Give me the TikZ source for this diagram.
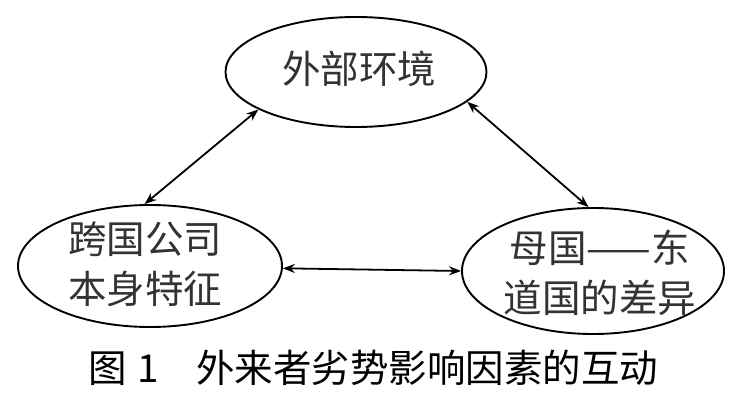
\documentclass[tikz,border=0pt]{standalone}
\usepackage{fontspec}
\newfontfamily\cjk{Noto Sans CJK SC}
\usetikzlibrary{shapes.geometric,arrows.meta}
\tikzset{
  oval/.style={ellipse,draw=black,line width=1.9pt,inner sep=0pt},
  lbl/.style={font=\cjk\fontsize{38.5}{50}\selectfont,align=center,inner sep=0pt,text=black!80},
  captext/.style={font=\cjk\fontsize{38.5}{46}\selectfont,inner sep=0pt,anchor=west},
  link/.style={line width=1.8pt,{Stealth[length=12pt,width=9pt,inset=4pt]}-{Stealth[length=12pt,width=9pt,inset=4pt]}}
}
\begin{document}
\begin{tikzpicture}[x=1pt,y=-1pt]
\useasboundingbox[fill=white] (0,0) rectangle (744,403);
\node[oval,minimum width=261pt,minimum height=110pt] (env) at (356,72) {};
\node[oval,minimum width=264pt,minimum height=122pt] (firm) at (150,266) {};
\node[oval,minimum width=262pt,minimum height=126pt] (diff) at (593,271) {};
\node[lbl] (envt) at (359,69) {外部环境};
\node[lbl] (firmt) at (145,264) {跨国公司\\本身特征};
\node[lbl] (difft) at (600,273) {母国——东\\道国的差异};
\draw[link] (env.201) -- (firm.95);
\draw[link] (env.345) -- (diff.94);
\draw[link] (firm.-1) -- (diff.180);
\node[captext] (caption) at (88,368) {图\hspace{11pt}1\hspace{37pt}外来者劣势影响因素的互动};
\end{tikzpicture}
\end{document}
